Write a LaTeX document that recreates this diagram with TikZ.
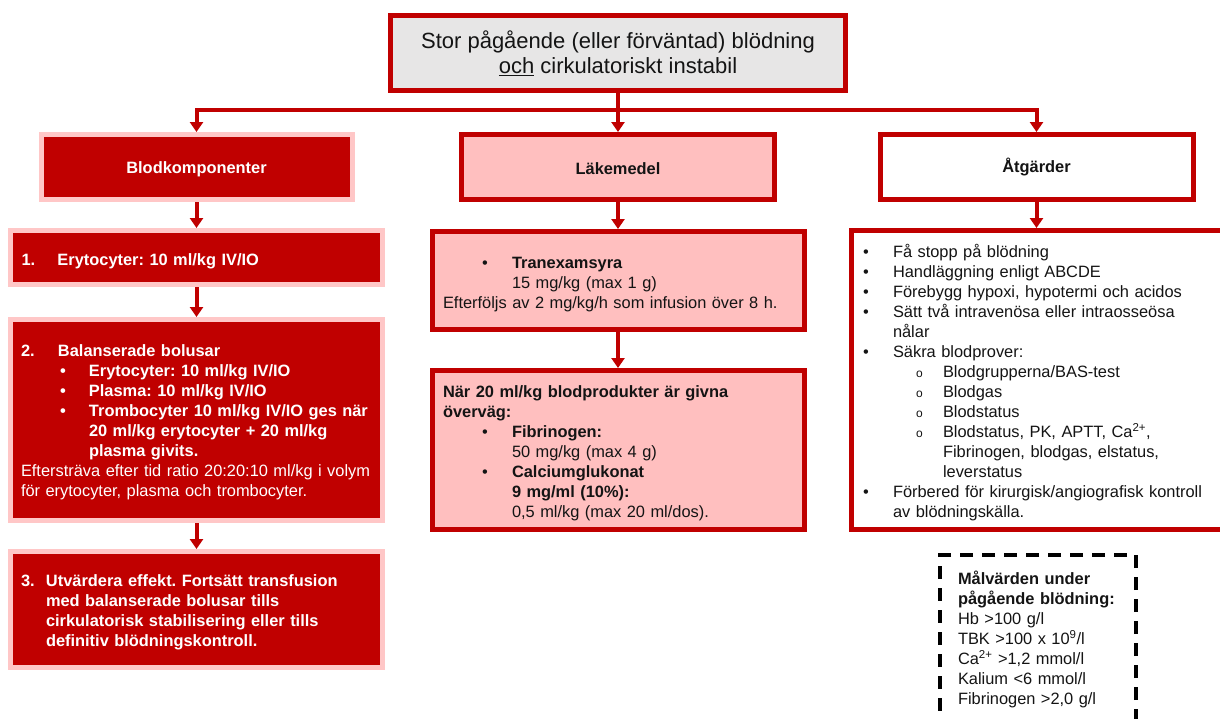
\documentclass[tikz,border=0pt]{standalone}
\usepackage{fontspec}
\setmainfont{Liberation Sans}
\usetikzlibrary{arrows.meta}
\definecolor{dred}{HTML}{C00000}
\definecolor{pinkb}{HTML}{FFC7C7}
\definecolor{pinkf}{HTML}{FFBFBF}
\definecolor{grayf}{HTML}{E7E6E6}
\definecolor{txt}{HTML}{141414}
\newcommand{\subo}{{\fontsize{12}{12}\selectfont o}}
\newcommand{\bul}[1]{\makebox[#1][l]{•}}
\newcommand{\tf}[1]{\rule{0pt}{#1}}
\frenchspacing
\begin{document}
\frenchspacing
\begin{tikzpicture}[x=1pt,y=-1pt,
 base/.style={font=\frenchspacing\fontsize{16.4}{20}\selectfont, inner sep=0pt},
 boldf/.style={font=\frenchspacing\bfseries\fontsize{16.4}{20}\selectfont},
 redbox/.style={base, draw=pinkb, fill=dred, line width=5pt, text=white, align=left},
 lightbox/.style={base, draw=dred, fill=pinkf, line width=5pt, text=txt, align=left},
 whitebox/.style={base, draw=dred, fill=white, line width=5pt, text=txt, align=left},
 dashbox/.style={base, draw=black, fill=white, line width=4pt, dash pattern=on 13pt off 9pt, text=txt, align=left},
 conn/.style={draw=dred, line width=4pt},
 arr/.style={conn, -{Triangle[width=13pt,length=10pt]}},
]
\useasboundingbox (0,0) rectangle (1220,718);
\clip (0,0) rectangle (1220,718);

% top
\node[base, draw=dred, fill=grayf, line width=5pt, minimum width=455pt, minimum height=75pt,
  align=center, font=\fontsize{22}{25}\selectfont, text=txt] (top) at (618,53)
  {\tf{19pt}Stor pågående (eller förväntad) blödning\\\underline{och} cirkulatoriskt instabil};

% left column
\node[redbox, boldf, minimum width=311pt, minimum height=65pt, align=center] (blod) at (196.5,167) {\tf{15.5pt}Blodkomponenter};
\node[redbox, boldf, minimum width=372pt, minimum height=54pt, text width=350pt] (b1) at (196.5,257.5)
  {\tf{20pt}\makebox[36pt][l]{1.}Erytocyter: 10 ml/kg IV/IO};
\node[redbox, boldf, minimum width=372pt, minimum height=201pt, text width=351pt] (b2) at (196.5,420)
  {\tf{16pt}\makebox[37pt][l]{2.}Balanserade bolusar\\
   \hspace*{39pt}\bul{29pt}Erytocyter: 10 ml/kg IV/IO\\
   \hspace*{39pt}\bul{29pt}Plasma: 10 ml/kg IV/IO\\
   \hspace*{39pt}\bul{29pt}Trombocyter 10 ml/kg IV/IO ges när\\
   \hspace*{68pt}20 ml/kg erytocyter + 20 ml/kg\\
   \hspace*{68pt}plasma givits.\\
   {\mdseries Eftersträva efter tid ratio 20:20:10 ml/kg i volym}\\
   {\mdseries för erytocyter, plasma och trombocyter.}};
\node[redbox, boldf, minimum width=372pt, minimum height=116pt, text width=351pt] (b3) at (196.5,609.5)
  {\tf{18pt}\makebox[25pt][l]{3.}Utvärdera effekt. Fortsätt transfusion\\
   \hspace*{25pt}med balanserade bolusar tills\\
   \hspace*{25pt}cirkulatorisk stabilisering eller tills\\
   \hspace*{25pt}definitiv blödningskontroll.};

% middle column
\node[lightbox, boldf, minimum width=313pt, minimum height=65pt, align=center] (lak) at (618,167) {\tf{14.5pt}Läkemedel};
\node[lightbox, minimum width=372pt, minimum height=98pt, text width=350pt] (tran) at (618,280.5)
  {\tf{19pt}\hspace*{39pt}\bul{30pt}\textbf{Tranexamsyra}\\
   \hspace*{69pt}15 mg/kg (max 1 g)\\
   Efterföljs av 2 mg/kg/h som infusion över 8 h.};
\node[lightbox, minimum width=372pt, minimum height=159pt, text width=350pt] (nar) at (618,450)
  {\tf{18pt}\textbf{När 20 ml/kg blodprodukter är givna}\\
   \textbf{överväg:}\\
   \hspace*{39pt}\bul{30pt}\textbf{Fibrinogen:}\\
   \hspace*{69pt}50 mg/kg (max 4 g)\\
   \hspace*{39pt}\bul{30pt}\textbf{Calciumglukonat}\\
   \hspace*{69pt}\textbf{9 mg/ml (10\%):}\\
   \hspace*{69pt}0,5 ml/kg (max 20 ml/dos).};

% right column
\node[whitebox, boldf, minimum width=313pt, minimum height=65pt, align=center] (atg) at (1036.5,167) {\tf{15pt}Åtgärder};
\node[whitebox, minimum width=378.5pt, minimum height=299pt, text width=355.5pt] (rb) at (1040.75,380)
  {\tf{19pt}\bul{30pt}Få stopp på blödning\\
   \bul{30pt}Handläggning enligt ABCDE\\
   \bul{30pt}Förebygg hypoxi, hypotermi och acidos\\
   \bul{30pt}Sätt två intravenösa eller intraosseösa\\
   \hspace*{30pt}nålar\\
   \bul{30pt}Säkra blodprover:\\
   \hspace*{53pt}\makebox[27pt][l]{\subo}Blodgrupperna/BAS-test\\
   \hspace*{53pt}\makebox[27pt][l]{\subo}Blodgas\\
   \hspace*{53pt}\makebox[27pt][l]{\subo}Blodstatus\\
   \hspace*{53pt}\makebox[27pt][l]{\subo}Blodstatus, PK, APTT, Ca\textsuperscript{2+},\\
   \hspace*{80pt}Fibrinogen, blodgas, elstatus,\\
   \hspace*{80pt}leverstatus\\
   \bul{30pt}Förbered för kirurgisk/angiografisk kontroll\\
   \hspace*{30pt}av blödningskälla.};
\node[dashbox, minimum width=196pt, minimum height=169pt, text width=160pt] (mal) at (1038,639.5)
  {\tf{14pt}\textbf{Målvärden under}\\
   \textbf{pågående blödning:}\\
   Hb >100 g/l\\
   TBK >100 x 10\textsuperscript{9}/l\\
   Ca\textsuperscript{2+} >1,2 mmol/l\\
   Kalium <6 mmol/l\\
   Fibrinogen >2,0 g/l};

% connectors
\coordinate (j) at (618,110);
\draw[conn] (top) -- (j);
\draw[arr] (j) -| (blod);
\draw[arr] (j) -- (lak);
\draw[arr] (j) -| (atg);
\draw[arr] (blod) -- (b1);
\draw[arr] (b1) -- (b2);
\draw[arr] (b2) -- (b3);
\draw[arr] (lak) -- (tran);
\draw[arr] (tran) -- (nar);
\draw[arr] (atg.south) -- (atg.south |- rb.north);
\end{tikzpicture}
\end{document}
